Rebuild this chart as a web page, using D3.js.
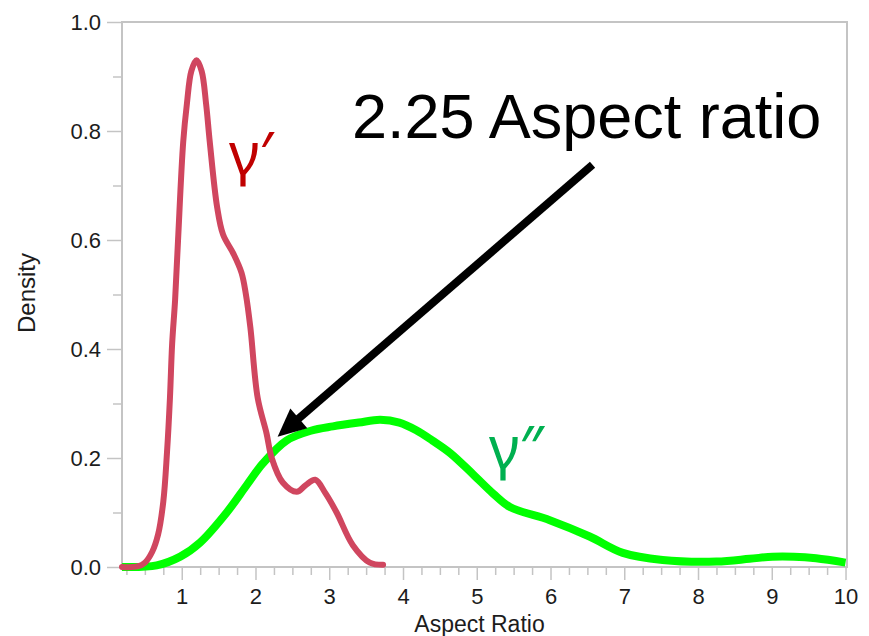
<!DOCTYPE html>
<html>
<head>
<meta charset="utf-8">
<script src="https://cdn.jsdelivr.net/npm/d3@7"></script>
<style>
  body { margin: 0; background: #fff; }
  svg text { font-family: "Liberation Sans", Arial, sans-serif; }
</style>
</head>
<body>
<div id="chart"></div>
<script>
// density curves
const redX = [0.19, 0.40, 0.50, 0.60, 0.68, 0.75, 0.80, 0.84, 0.87, 0.91, 0.95, 1.02, 1.07, 1.13, 1.20, 1.27, 1.33, 1.38, 1.48, 1.56, 1.70, 1.81, 1.87, 1.93, 2.03, 2.15, 2.22, 2.37, 2.56, 2.68, 2.81, 2.95, 3.10, 3.32, 3.55, 3.73];
const redY = [0, 0.001, 0.008, 0.028, 0.06, 0.12, 0.21, 0.31, 0.41, 0.49, 0.60, 0.78, 0.85, 0.91, 0.93, 0.91, 0.85, 0.78, 0.66, 0.61, 0.575, 0.54, 0.50, 0.44, 0.31, 0.245, 0.20, 0.155, 0.138, 0.15, 0.16, 0.135, 0.10, 0.04, 0.008, 0.004];

const greenX = [0.19, 0.66, 0.98, 1.25, 1.61, 1.88, 2.10, 2.42, 2.75, 3.05, 3.40, 3.69, 3.95, 4.18, 4.40, 4.64, 4.95, 5.22, 5.45, 5.99, 6.53, 6.98, 7.52, 8.25, 8.70, 9.01, 9.30, 9.60, 10.0];
const greenY = [0, 0.003, 0.019, 0.045, 0.10, 0.15, 0.19, 0.232, 0.25, 0.258, 0.265, 0.27, 0.265, 0.251, 0.232, 0.209, 0.17, 0.135, 0.11, 0.086, 0.056, 0.026, 0.013, 0.01, 0.015, 0.019, 0.019, 0.016, 0.008];

const xMajor = [1, 2, 3, 4, 5, 6, 7, 8, 9, 10];
const yMajor = [0, 0.2, 0.4, 0.6, 0.8, 1.0];
const xMinor = d3.range(0.25, 10, 0.25).filter(v => v % 1 !== 0);
const yMinor = [0.1, 0.3, 0.5, 0.7, 0.9];

// annotation: arrow from tail to tip, in data units
const arrowFrom = [6.57, 0.738];
const arrowTo = [2.30, 0.239];

const margin = {top: 22, right: 22, bottom: 69, left: 122},
    width = 869 - margin.left - margin.right,
    height = 636 - margin.top - margin.bottom;

const svg = d3.select("#chart")
    .append("svg")
    .attr("width", 869)
    .attr("height", 636);

const g = svg.append("g")
    .attr("transform", `translate(${margin.left},${margin.top})`);

const x = d3.scaleLinear().domain([0.19, 10.02]).range([0, width]);
const y = d3.scaleLinear().domain([0, 1]).range([height, 0]);

const axisColor = "#c4c4c4";

// minor ticks first
g.append("g")
    .attr("transform", `translate(0,${height})`)
    .call(d3.axisBottom(x).tickValues(xMinor).tickSize(8).tickFormat(""))
    .call(a => a.select(".domain").remove());
g.append("g")
    .call(d3.axisLeft(y).tickValues(yMinor).tickSize(9).tickFormat(""))
    .call(a => a.select(".domain").remove());

// major ticks + labels
const xAxis = g.append("g")
    .attr("transform", `translate(0,${height})`)
    .call(d3.axisBottom(x).tickValues(xMajor).tickSize(13).tickPadding(8).tickFormat(d3.format("d")));
const yAxis = g.append("g")
    .call(d3.axisLeft(y).tickValues(yMajor).tickSize(15).tickPadding(6).tickFormat(d3.format(".1f")));

g.selectAll(".tick line").attr("stroke", axisColor).attr("stroke-width", 1.5);
g.selectAll(".domain").remove();
g.selectAll(".tick text")
    .attr("fill", "#1c1c1c")
    .style("font-size", "22px")
    .style("font-family", "'Liberation Sans', Arial, sans-serif");
yAxis.selectAll(".tick text").attr("dy", "0.36em");

// frame
g.append("rect")
    .attr("x", 0).attr("y", 0)
    .attr("width", width).attr("height", height)
    .attr("fill", "none")
    .attr("stroke", axisColor)
    .attr("stroke-width", 2);

// axis titles
svg.append("text")
    .attr("x", margin.left + width / 2 - 5)
    .attr("y", 632)
    .attr("text-anchor", "middle")
    .style("font-size", "23px")
    .attr("fill", "#1c1c1c")
    .text("Aspect Ratio");

svg.append("text")
    .attr("transform", "translate(35,293) rotate(-90)")
    .attr("text-anchor", "middle")
    .style("font-size", "24px")
    .attr("fill", "#1c1c1c")
    .text("Density");

// curves
const line = d3.line()
    .x(d => x(d[0]))
    .y(d => y(d[1]))
    .curve(d3.curveCatmullRom.alpha(0.5));

g.append("path")
    .datum(greenX.map((v, i) => [v, greenY[i]]))
    .attr("d", line)
    .attr("fill", "none")
    .attr("stroke", "#00ff00")
    .attr("stroke-width", 8)
    .attr("stroke-linejoin", "round");

g.append("path")
    .datum(redX.map((v, i) => [v, redY[i]]))
    .attr("d", line)
    .attr("fill", "none")
    .attr("stroke", "#d0465f")
    .attr("stroke-width", 6)
    .attr("stroke-linecap", "round")
    .attr("stroke-linejoin", "round");

// arrow
const x0 = x(arrowFrom[0]), y0 = y(arrowFrom[1]);
const x1 = x(arrowTo[0]), y1 = y(arrowTo[1]);
const len = Math.hypot(x1 - x0, y1 - y0);
const ux = (x1 - x0) / len, uy = (y1 - y0) / len;
const headLen = 28, headHalf = 13;
const bx = x1 - ux * headLen, by = y1 - uy * headLen;

g.append("line")
    .attr("x1", x0).attr("y1", y0)
    .attr("x2", bx + ux * 4).attr("y2", by + uy * 4)
    .attr("stroke", "#000")
    .attr("stroke-width", 8);

g.append("path")
    .attr("d", `M${x1},${y1} L${bx - uy * headHalf},${by + ux * headHalf} L${bx + uy * headHalf},${by - ux * headHalf} Z`)
    .attr("fill", "#000");

// annotation text
svg.append("text")
    .attr("x", 352)
    .attr("y", 138)
    .style("font-size", "63px")
    .attr("fill", "#000")
    .text("2.25 Aspect ratio");

// curve labels
svg.append("text")
    .attr("x", 229)
    .attr("y", 174)
    .style("font-size", "59px")
    .style("font-family", "'Noto Sans', sans-serif")
    .attr("fill", "#c00000")
    .text("γ′");

svg.append("text")
    .attr("x", 489)
    .attr("y", 468)
    .style("font-size", "59px")
    .style("font-family", "'Noto Sans', sans-serif")
    .attr("fill", "#00b050")
    .text("γ″");
</script>
</body>
</html>
